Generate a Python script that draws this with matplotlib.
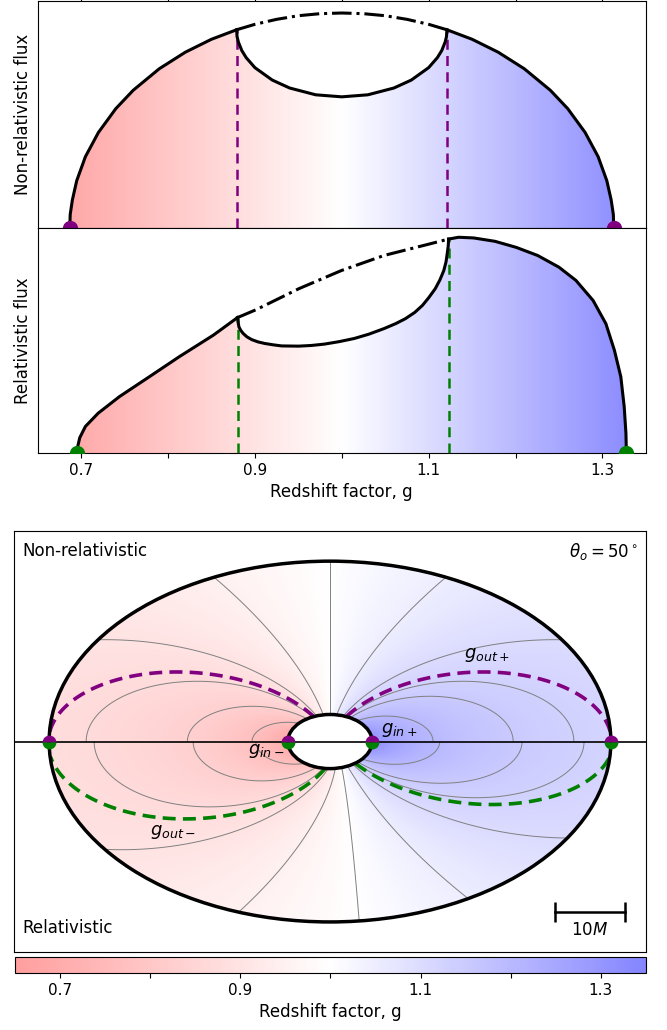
import numpy as np
import matplotlib
matplotlib.use("Agg")
import matplotlib.pyplot as plt
from matplotlib.colors import LinearSegmentedColormap, Normalize
from matplotlib.patches import Ellipse, Polygon
from matplotlib.cm import ScalarMappable

# Disc set-up (units of M)
theta_o = 50.0
r_in, r_out = 6.0, 40.0

# Edge redshifts: non-relativistic (purple) and relativistic (green)
g_in_nr = [0.687, 1.313]
g_out_nr = [0.879, 1.121]
g_in_rel = [0.695, 1.327]
g_out_rel = [0.881, 1.123]

# Non-relativistic line profile
nr_left_g = [0.687, 0.6875, 0.690, 0.695, 0.705, 0.72, 0.74, 0.76, 0.79, 0.82, 0.85, 0.879]
nr_left_f = [0.0, 0.06, 0.124, 0.209, 0.315, 0.422, 0.527, 0.608, 0.703, 0.776, 0.833, 0.875]
nr_right_g = [1.121, 1.15, 1.18, 1.21, 1.24, 1.26, 1.28, 1.295, 1.305, 1.310, 1.3125, 1.313]
nr_right_f = [0.875, 0.833, 0.776, 0.703, 0.608, 0.527, 0.422, 0.315, 0.209, 0.124, 0.06, 0.0]
nr_top_g = [0.879, 0.90, 0.925, 0.95, 0.975, 1.0, 1.025, 1.05, 1.075, 1.10, 1.121]
nr_top_f = [0.875, 0.899, 0.921, 0.937, 0.946, 0.949, 0.946, 0.937, 0.921, 0.899, 0.875]
nr_bowl_g = [0.879, 0.8795, 0.881, 0.885, 0.89, 0.90, 0.92, 0.94, 0.97, 1.0,
             1.03, 1.06, 1.08, 1.10, 1.11, 1.115, 1.119, 1.1205, 1.121]
nr_bowl_f = [0.875, 0.845, 0.821, 0.783, 0.752, 0.708, 0.653, 0.618, 0.588, 0.579,
             0.588, 0.618, 0.653, 0.708, 0.752, 0.783, 0.821, 0.845, 0.875]

# Relativistic line profile
rel_left_g = [0.695, 0.6965, 0.6985, 0.705, 0.7197, 0.7443, 0.7786, 0.813, 0.8523, 0.880]
rel_left_f = [0.0, 0.035, 0.068, 0.118, 0.177, 0.251, 0.339, 0.428, 0.524, 0.602]
rel_top_g = [0.880, 0.9014, 0.9504, 0.9995, 1.0486, 1.0977, 1.123]
rel_top_f = [0.602, 0.637, 0.730, 0.811, 0.878, 0.926, 0.951]
rel_right_g = [1.123, 1.1345, 1.1517, 1.1763, 1.2008, 1.2254, 1.2499, 1.2695,
               1.2892, 1.3039, 1.3137, 1.3211, 1.325, 1.327, 1.3275]
rel_right_f = [0.951, 0.959, 0.956, 0.941, 0.914, 0.878, 0.826, 0.767,
               0.678, 0.575, 0.457, 0.339, 0.206, 0.088, 0.0]
rel_bowl_g = [0.880, 0.8805, 0.8817, 0.8838, 0.8866, 0.8910, 0.8964, 0.9035, 0.9112,
              0.9208, 0.9308, 0.9504, 0.9650, 0.9799, 0.9970, 1.0143, 1.0310,
              1.0486, 1.0620, 1.0732, 1.0840, 1.0928, 1.1000, 1.1075, 1.1130,
              1.1174, 1.1200, 1.1213, 1.1225, 1.123]
rel_bowl_f = [0.602, 0.585, 0.560, 0.545, 0.531, 0.516, 0.504, 0.494, 0.487,
              0.481, 0.476, 0.475, 0.478, 0.484, 0.495, 0.509, 0.528,
              0.553, 0.575, 0.597, 0.625, 0.656, 0.690, 0.730, 0.770,
              0.811, 0.850, 0.885, 0.920, 0.951]

# Iso-redshift contour levels on the disc image
contour_levels = [0.77, 0.83, 0.87, 0.90, 0.95, 1.0, 1.05, 1.10, 1.13, 1.15, 1.20]

ticks = [0.7, 0.8, 0.9, 1.0, 1.1, 1.2, 1.3]
tick_labels = ["0.7", "", "0.9", "", "1.1", "", "1.3"]

purple = "#800080"
green = "#008000"
cmap = LinearSegmentedColormap.from_list(
    "rb", [(1.0, 0.62, 0.62), (1.0, 1.0, 1.0), (0.52, 0.52, 1.0)])
cmap.set_bad((1, 1, 1, 0))
norm = Normalize(0.65, 1.35)

fig = plt.figure(figsize=(6.67, 10.30), dpi=100)
ax1 = fig.add_axes([0.0564, 0.7786, 0.912, 0.2200])
ax2 = fig.add_axes([0.0564, 0.5602, 0.912, 0.2184])
ax3 = fig.add_axes([0.021, 0.0757, 0.9475, 0.4087])
cax = fig.add_axes([0.0225, 0.0553, 0.946, 0.0155])

ramp = np.linspace(0.65, 1.35, 512).reshape(1, -1)


def profile(ax, left_g, left_f, bowl_g, bowl_f, right_g, right_f, top_g, top_f,
            g_in, g_out, col):
    outline = np.column_stack([
        np.concatenate([left_g, bowl_g[1:], right_g[1:], [left_g[0]]]),
        np.concatenate([left_f, bowl_f[1:], right_f[1:], [0.0]])])
    patch = Polygon(outline, closed=True, facecolor="none", edgecolor="none")
    ax.add_patch(patch)
    im = ax.imshow(ramp, extent=[0.65, 1.35, 0, 1.0], aspect="auto",
                   cmap=cmap, norm=norm, zorder=1)
    im.set_clip_path(patch)
    ax.plot(left_g, left_f, color="k", lw=2.2, zorder=3)
    ax.plot(right_g, right_f, color="k", lw=2.2, zorder=3)
    ax.plot(bowl_g, bowl_f, color="k", lw=2.2, zorder=3)
    ax.plot(top_g, top_f, color="k", lw=2.2, ls="-.", zorder=3)
    ax.plot([g_out[0], g_out[0]], [0, left_f[-1]], color=col, lw=1.8,
            ls=(0, (4, 2.5)), zorder=2)
    ax.plot([g_out[1], g_out[1]], [0, right_f[0]], color=col, lw=1.8,
            ls=(0, (4, 2.5)), zorder=2)
    ax.plot(g_in, [0, 0], "o", color=col, ms=10, zorder=4)
    ax.set_xlim(0.65, 1.35)
    ax.set_ylim(0, 1.0)
    ax.set_yticks([])
    ax.set_xticks(ticks)


profile(ax1, nr_left_g, nr_left_f, nr_bowl_g, nr_bowl_f, nr_right_g, nr_right_f,
        nr_top_g, nr_top_f, g_in_nr, g_out_nr, purple)
profile(ax2, rel_left_g, rel_left_f, rel_bowl_g, rel_bowl_f, rel_right_g, rel_right_f,
        rel_top_g, rel_top_f, g_in_rel, g_out_rel, green)

ax1.tick_params(axis="x", bottom=False, labelbottom=False, top=True)
ax1.set_ylabel("Non-relativistic flux", fontsize=12)
ax2.set_ylabel("Relativistic flux", fontsize=12)
ax2.set_xticklabels(tick_labels, fontsize=11)
ax2.set_xlabel("Redshift factor, g", fontsize=12)

# Redshift map of the disc image: top half non-relativistic, bottom half relativistic
inc = np.radians(theta_o)
xs = np.linspace(-45, 45, 900)
ys = np.linspace(-30, 30, 601)
X, Y = np.meshgrid(xs, ys)
R = np.hypot(X, Y / np.cos(inc))
with np.errstate(divide="ignore", invalid="ignore"):
    vlos = np.sin(inc) * X / R ** 1.5
    g_nr = 1.0 + vlos
    g_rel = np.sqrt(1.0 - 1.0 / R) / (1.0 - vlos)
disc = (R >= r_in) & (R <= r_out)
field = np.where(Y >= 0, g_nr, g_rel)
field = np.ma.masked_where(~disc, field)
top = np.ma.masked_where(~disc | (Y < 0), g_nr)
bot = np.ma.masked_where(~disc | (Y > 0), g_rel)

ax3.imshow(field, extent=[-45, 45, -30, 30], origin="lower", cmap=cmap,
           norm=norm, aspect="auto", interpolation="bilinear", zorder=1)
ax3.contour(X, Y, top, levels=contour_levels, colors="0.5", linewidths=0.7, zorder=2)
ax3.contour(X, Y, bot, levels=contour_levels, colors="0.5", linewidths=0.7, zorder=2)
ax3.contour(X, Y, top, levels=g_out_nr, colors=purple, linewidths=2.6,
            linestyles=[(0, (3.6, 2))], zorder=3)
ax3.contour(X, Y, bot, levels=g_out_rel, colors=green, linewidths=2.6,
            linestyles=[(0, (3.6, 2))], zorder=3)

ax3.add_patch(Ellipse((0, 0), 2 * r_out, 2 * r_out * np.cos(inc), fill=False,
                      edgecolor="k", lw=2.5, zorder=4))
ax3.add_patch(Ellipse((0, 0), 2 * r_in, 2 * r_in * np.cos(inc), facecolor="white",
                      edgecolor="k", lw=2.5, zorder=4))
ax3.axhline(0, color="k", lw=1.2, zorder=4)

edge_r = [-r_out, -r_in, r_in, r_out]
ax3.plot(edge_r, [0] * 4, "o", color=purple, ms=10, fillstyle="top",
         markeredgewidth=0, zorder=5)
ax3.plot(edge_r, [0] * 4, "o", color=green, ms=10, fillstyle="bottom",
         markeredgewidth=0, zorder=5)

ax3.text(22.4, 12.4, r"$g_{out+}$", fontsize=13, ha="center", va="center", zorder=6)
ax3.text(-22.4, -12.9, r"$g_{out-}$", fontsize=13, ha="center", va="center", zorder=6)
ax3.text(9.9, 1.7, r"$g_{in+}$", fontsize=13, ha="center", va="center", zorder=6)
ax3.text(-9.1, -1.3, r"$g_{in-}$", fontsize=13, ha="center", va="center", zorder=6)

ax3.text(0.013, 0.952, "Non-relativistic", transform=ax3.transAxes, fontsize=12,
         ha="left", va="center")
ax3.text(0.013, 0.057, "Relativistic", transform=ax3.transAxes, fontsize=12,
         ha="left", va="center")
ax3.text(0.987, 0.952, r"$\theta_o = 50^\circ$", transform=ax3.transAxes,
         fontsize=12, ha="right", va="center")

# 10 M scale bar
ax3.plot([32, 42], [-24.3, -24.3], color="k", lw=1.8, marker="|", ms=14, mew=1.8)
ax3.text(37, -26.9, r"10$M$", fontsize=12, ha="center", va="center")

ax3.set_xlim(-45, 45)
ax3.set_ylim(-30, 30)
ax3.set_xticks([])
ax3.set_yticks([])

cb = fig.colorbar(ScalarMappable(norm=norm, cmap=cmap), cax=cax, orientation="horizontal")
cb.set_ticks(ticks)
cb.set_ticklabels(tick_labels)
cb.ax.tick_params(labelsize=11)
cb.set_label("Redshift factor, g", fontsize=12)

fig.savefig("out.png", dpi=100)
